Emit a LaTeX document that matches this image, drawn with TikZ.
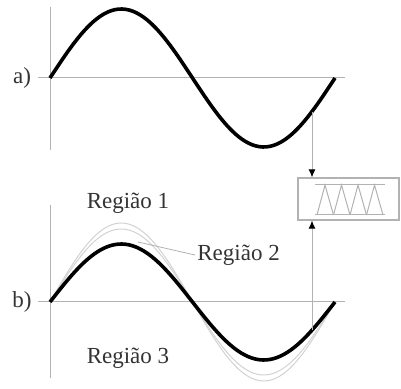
\documentclass[tikz,border=0pt]{standalone}
\usepackage{fontspec}
\setmainfont{Liberation Serif}
\usetikzlibrary{arrows.meta}
\begin{document}
\begin{tikzpicture}[x=0.5pt,y=-0.5pt,
    axis/.style={gray!60,line width=0.5pt},
    wave/.style={line width=1.8pt,smooth},
    band/.style={gray!35,line width=0.5pt,smooth},
    lbl/.style={font=\fontsize{11.5}{13}\selectfont,text=black!80}]
  \useasboundingbox (0,0) rectangle (401,389);
  \draw[axis] (50,7) -- (50,150);
  \draw[axis] (38,78) -- (345,78);
  \draw[wave] plot[domain=0:360,samples=80] ({50+\x/360*285},{78-69*sin(\x)});
  \draw[axis] (50,205) -- (50,378);
  \draw[axis] (38,302) -- (345,302);
  \draw[band] plot[domain=0:360,samples=80] ({50+\x/360*285},{302-79*sin(\x)});
  \draw[band] plot[domain=0:360,samples=80] ({50+\x/360*285},{302-73*sin(\x)});
  \draw[wave] plot[domain=0:360,samples=80] ({50+\x/360*285},{302-58*sin(\x)});
  \node[lbl] (a) at (22,78) {a)};
  \node[lbl] (b) at (22,302) {b)};
  \node[lbl] (r1) at (128,203) {Região 1};
  \node[lbl,anchor=west,inner sep=1pt] (r2) at (195,255) {Região 2};
  \node[lbl] (r3) at (128,358) {Região 3};
  \coordinate (c2) at (138,242);
  \draw[gray!60,line width=0.4pt] (c2) -- (r2.west);
  \node[draw=gray!60,line width=0.6pt,minimum width=50.5pt,minimum height=21pt,inner sep=0pt] (cmp) at (348.5,199) {};
  \draw[gray!60,line width=0.5pt] (315,185) -- (385,185) (315,215) -- (385,215);
  \foreach \i in {0,...,3}
    \draw[gray!60,line width=0.5pt] ({317+16.5*\i},215) -- ({325+16.5*\i},185) -- ({333.5+16.5*\i},215);
  \coordinate (ta) at (312,111.6);
  \coordinate (tb) at (312,330.3);
  \draw[axis,-{Latex[length=4pt,width=3.5pt,color=black]}] (ta) -- (ta |- cmp.north);
  \draw[axis,-{Latex[length=4pt,width=3.5pt,color=black]}] (tb) -- (tb |- cmp.south);
\end{tikzpicture}
\end{document}
